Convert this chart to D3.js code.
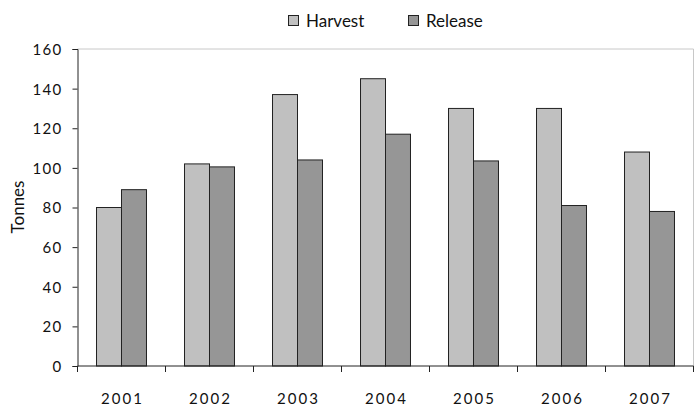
<!DOCTYPE html>
<html>
<head>
<meta charset="utf-8">
<script src="https://cdn.jsdelivr.net/npm/d3@7"></script>
<style>
  html, body { margin: 0; padding: 0; background: #fff; }
  svg text { font-family: Lato, "Open Sans", sans-serif; fill: #111; }
</style>
</head>
<body>
<svg id="chart" width="696" height="408"></svg>
<script>
// Annual tonnes by year
const years = ["2001", "2002", "2003", "2004", "2005", "2006", "2007"];
const harvest = [80, 102, 137, 145, 130, 130, 108];
const release = [89, 100.5, 104, 117, 103.5, 81, 78];
const seriesNames = ["Harvest", "Release"];
const seriesColors = ["#c0c0c0", "#969696"];
const yTicks = [0, 20, 40, 60, 80, 100, 120, 140, 160];

const svg = d3.select("#chart");
const plotLeft = 77.5, plotRight = 693.5, plotTop = 49, plotBottom = 366;

const x = d3.scaleBand().domain(years).range([plotLeft, plotRight]).padding(0);
const x1 = d3.scaleBand().domain(seriesNames)
  .range([x.bandwidth() * 0.216, x.bandwidth() * 0.784]).padding(0);
const y = d3.scaleLinear().domain([0, 160]).range([plotBottom, plotTop]);

// plot area frame (top and right edges)
svg.append("path")
  .attr("d", `M${plotLeft},${plotTop}H${plotRight}V${plotBottom}`)
  .attr("fill", "none").attr("stroke", "#c8c8c8").attr("stroke-width", 1);

// bars
const rows = years.map((yr, i) => ({ year: yr, values: [harvest[i], release[i]] }));
const groups = svg.append("g").selectAll("g").data(rows).join("g")
  .attr("transform", d => `translate(${x(d.year)},0)`);
groups.selectAll("rect")
  .data(d => d.values.map((v, k) => ({ name: seriesNames[k], value: v, color: seriesColors[k] })))
  .join("rect")
  .attr("x", d => x1(d.name))
  .attr("width", x1.bandwidth())
  .attr("y", d => y(d.value))
  .attr("height", d => y(0) - y(d.value))
  .attr("fill", d => d.color)
  .attr("stroke", "#222")
  .attr("stroke-width", 1);

// y axis
const yAxis = svg.append("g").attr("transform", `translate(${plotLeft},0)`)
  .call(d3.axisLeft(y).tickValues(yTicks).tickSize(5).tickPadding(10).tickFormat(d3.format("d")));
yAxis.select(".domain").attr("stroke", "#222");
yAxis.selectAll(".tick line").attr("stroke", "#222");
yAxis.selectAll(".tick text")
  .attr("font-size", 15).attr("letter-spacing", 1.3).attr("dy", "0.36em");

// x axis: ticks on category boundaries
const xAxis = svg.append("g").attr("transform", `translate(0,${plotBottom})`);
xAxis.append("line").attr("x1", plotLeft).attr("x2", plotRight).attr("stroke", "#222");
const bounds = years.map(d => x(d)).concat([x(years[years.length - 1]) + x.bandwidth()]);
xAxis.selectAll("line.tk").data(bounds).join("line").attr("class", "tk")
  .attr("x1", d => d).attr("x2", d => d).attr("y1", 0).attr("y2", 6).attr("stroke", "#222");
xAxis.selectAll("text").data(years).join("text")
  .attr("x", d => x(d) + x.bandwidth() / 2 + 1)
  .attr("y", 38)
  .attr("text-anchor", "middle")
  .attr("font-size", 15)
  .attr("letter-spacing", 2)
  .text(d => d);

// y axis title
svg.append("text")
  .attr("transform", `translate(24,207) rotate(-90)`)
  .attr("text-anchor", "middle")
  .attr("font-size", 17)
  .text("Tonnes");

// legend
const legendX = [288, 408];
const legend = svg.append("g").selectAll("g").data(seriesNames).join("g")
  .attr("transform", (d, i) => `translate(${legendX[i]},0)`);
legend.append("rect")
  .attr("x", 0.5).attr("y", 15.5).attr("width", 10).attr("height", 10)
  .attr("fill", (d, i) => seriesColors[i]).attr("stroke", "#222");
legend.append("text")
  .attr("x", 18).attr("y", 27)
  .attr("font-size", 17)
  .text(d => d);
</script>
</body>
</html>
